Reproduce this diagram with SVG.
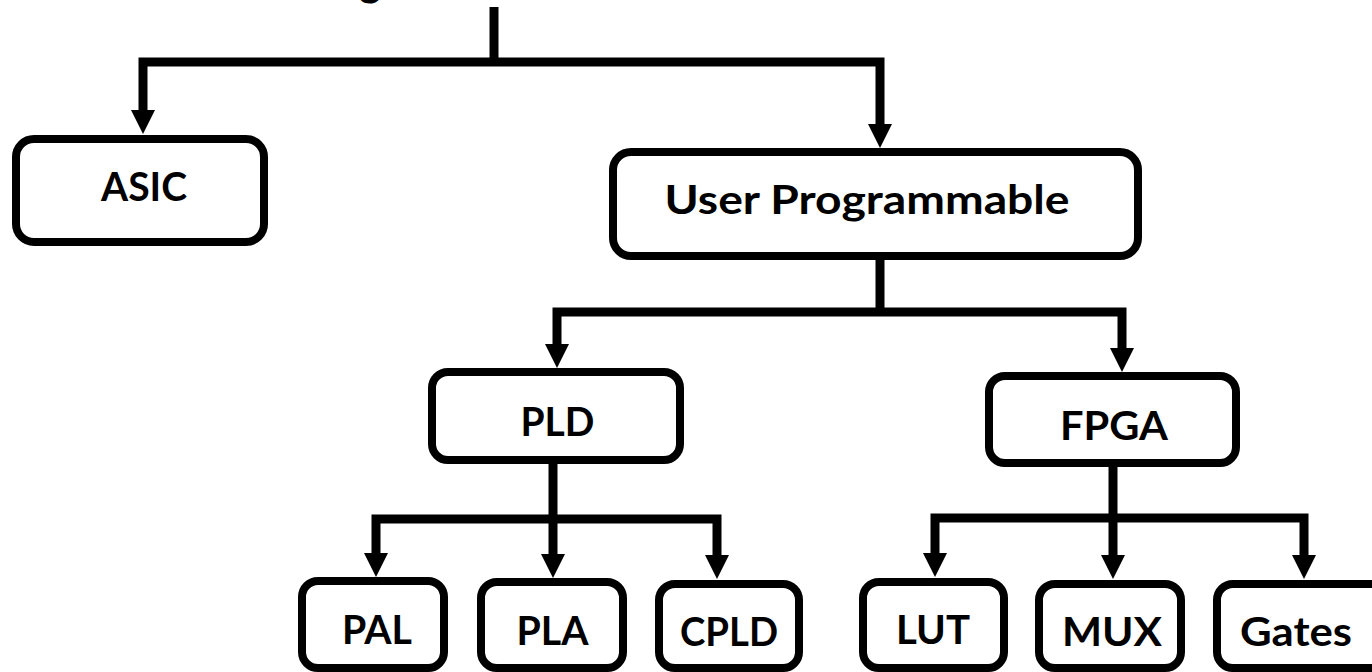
<svg xmlns="http://www.w3.org/2000/svg" width="1372" height="672" viewBox="0 0 1372 672">
  <defs>
    <marker id="arrow" markerUnits="userSpaceOnUse" markerWidth="24" markerHeight="24" viewBox="0 0 24 24" refX="0" refY="12" orient="auto">
      <path d="M0,0 L24,12 L0,24 Z" fill="#000"/>
    </marker>
    <style>
      .link { fill: none; stroke: #000; stroke-width: 9; stroke-linejoin: miter; stroke-linecap: butt; }
      .arrowed { marker-end: url(#arrow); }
      .box { fill: #fff; stroke: #000; stroke-width: 8; }
      .label { font-family: "Lato", "Liberation Sans", sans-serif; font-weight: 700; font-size: 41px; fill: #000; text-anchor: middle; }
    </style>
  </defs>
  <rect x="0" y="0" width="1372" height="672" fill="#fff"/>

  <!-- title, clipped by the top edge -->
  <text class="label" x="370" y="-4" font-size="48">g</text>

  <g id="connectors">
    <path class="link" d="M494,7 V66"/>
    <path class="link arrowed" d="M494,62 H143 V110"/>
    <path class="link arrowed" d="M494,62 H880 V124"/>

    <path class="link" d="M880,256 V316"/>
    <path class="link arrowed" d="M880,312 H557 V344"/>
    <path class="link arrowed" d="M880,312 H1122 V348"/>

    <path class="link" d="M553,460 V523"/>
    <path class="link arrowed" d="M553,519 H376 V553"/>
    <path class="link arrowed" d="M553,519 V554"/>
    <path class="link arrowed" d="M553,519 H717 V555"/>

    <path class="link" d="M1113,463 V522"/>
    <path class="link arrowed" d="M1113,518 H935 V553"/>
    <path class="link arrowed" d="M1113,518 V555"/>
    <path class="link arrowed" d="M1113,518 H1304 V555"/>
  </g>

  <g id="asic">
    <rect class="box" x="16" y="139" width="248" height="103" rx="18"/>
    <text class="label" x="144" y="201" textLength="86" lengthAdjust="spacingAndGlyphs">ASIC</text>
  </g>
  <g id="user-programmable">
    <rect class="box" x="613" y="152" width="525" height="104" rx="18"/>
    <text class="label" x="867" y="214" textLength="405" lengthAdjust="spacingAndGlyphs">User Programmable</text>
  </g>

  <g id="pld">
    <rect class="box" x="432" y="372" width="248" height="88" rx="16"/>
    <text class="label" x="557.5" y="436" textLength="74" lengthAdjust="spacingAndGlyphs">PLD</text>
  </g>
  <g id="fpga">
    <rect class="box" x="989" y="376" width="247" height="87" rx="16"/>
    <text class="label" x="1114" y="440" textLength="108" lengthAdjust="spacingAndGlyphs">FPGA</text>
  </g>

  <g id="pal">
    <rect class="box" x="302" y="581" width="142" height="87" rx="16"/>
    <text class="label" x="377" y="644" textLength="70" lengthAdjust="spacingAndGlyphs">PAL</text>
  </g>
  <g id="pla">
    <rect class="box" x="481" y="582" width="142" height="86" rx="16"/>
    <text class="label" x="552.5" y="645" textLength="72" lengthAdjust="spacingAndGlyphs">PLA</text>
  </g>
  <g id="cpld">
    <rect class="box" x="659" y="584" width="140" height="84" rx="16"/>
    <text class="label" x="729" y="646" textLength="98" lengthAdjust="spacingAndGlyphs">CPLD</text>
  </g>

  <g id="lut">
    <rect class="box" x="863" y="582" width="141" height="86" rx="16"/>
    <text class="label" x="933" y="644" textLength="74" lengthAdjust="spacingAndGlyphs">LUT</text>
  </g>
  <g id="mux">
    <rect class="box" x="1039" y="584" width="142" height="84" rx="16"/>
    <text class="label" x="1112" y="646" textLength="100" lengthAdjust="spacingAndGlyphs">MUX</text>
  </g>
  <g id="gates">
    <rect class="box" x="1217" y="584" width="170" height="84" rx="16"/>
    <text class="label" x="1296" y="646" textLength="112" lengthAdjust="spacingAndGlyphs">Gates</text>
  </g>
</svg>
